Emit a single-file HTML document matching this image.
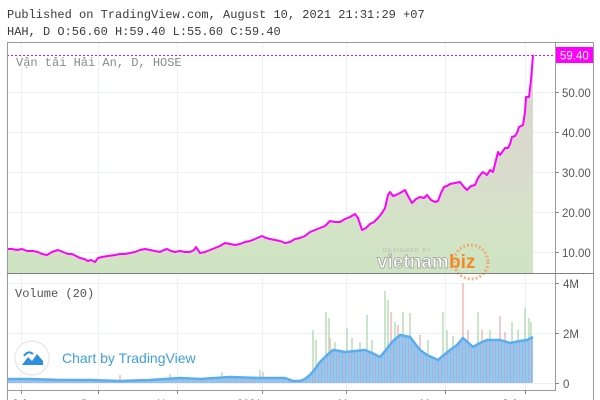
<!DOCTYPE html>
<html>
<head>
<meta charset="utf-8">
<style>
  html,body{margin:0;padding:0;background:#fff;}
  body{width:600px;height:400px;overflow:hidden;}
  svg{display:block;}
  .mono{font-family:"Liberation Mono","DejaVu Sans Mono",monospace;}
  .sans{font-family:"Liberation Sans","DejaVu Sans",sans-serif;}
</style>
</head>
<body>
<svg width="600" height="400" viewBox="0 0 600 400" xmlns="http://www.w3.org/2000/svg">
  <defs>
    <linearGradient id="ag" x1="0" y1="55" x2="0" y2="273" gradientUnits="userSpaceOnUse">
      <stop offset="0" stop-color="#d8d5cc"/>
      <stop offset="0.55" stop-color="#d9dccd"/>
      <stop offset="0.8" stop-color="#d3e4c6"/>
      <stop offset="1" stop-color="#cfe4c2"/>
    </linearGradient>
    <pattern id="vp" width="3" height="10" patternUnits="userSpaceOnUse">
      <rect width="3" height="10" fill="#8dcbef"/>
      <rect x="0" width="1" height="10" fill="#b2acdd"/>
    </pattern>
  </defs>

  <!-- header -->
  <text x="7" y="18" class="mono" font-size="12" fill="#3a3a3a">Published on TradingView.com, August 10, 2021 21:31:29 +07</text>
  <text x="7" y="35" class="mono" font-size="12" fill="#3a3a3a">HAH, D O:56.60 H:59.40 L:55.60 C:59.40</text>

  <!-- grid -->
  <g stroke="#edf1f3" stroke-width="1">
    <line x1="7" y1="92.5" x2="555" y2="92.5"/>
    <line x1="7" y1="132.5" x2="555" y2="132.5"/>
    <line x1="7" y1="172.5" x2="555" y2="172.5"/>
    <line x1="7" y1="212.5" x2="555" y2="212.5"/>
    <line x1="7" y1="252.5" x2="555" y2="252.5"/>
    <line x1="7" y1="283.5" x2="555" y2="283.5"/>
    <line x1="7" y1="333.5" x2="555" y2="333.5"/>
    <line x1="7" y1="383.5" x2="555" y2="383.5"/>
    <line x1="21.5" y1="42" x2="21.5" y2="390"/>
    <line x1="98.5" y1="42" x2="98.5" y2="390"/>
    <line x1="177.5" y1="42" x2="177.5" y2="390"/>
    <line x1="262.5" y1="42" x2="262.5" y2="390"/>
    <line x1="346.5" y1="42" x2="346.5" y2="390"/>
    <line x1="445.5" y1="42" x2="445.5" y2="390"/>
    <line x1="525.5" y1="42" x2="525.5" y2="390"/>
  </g>

  <!-- price area -->
  <polygon fill="url(#ag)" points="7,273 7,249 12,249 17,250 22,249 27,251 33,251 38,252 42,254 47,255 52,252 58,250 63,252 68,254 72,254 76,256 80,258 84,259 88,261 91,260 95,262 98,258 102,257 108,256 115,255 120,254 125,254 130,253 135,252 140,250 145,249 150,250 155,251 160,252 164,250 167,249 171,251 175,252 180,251 185,252 190,252 194,250 196,247 198,250 200,253 205,252 210,250 215,248 220,246 225,243 230,244 235,245 240,244 245,242 250,241 255,239 262,236 266,238 270,239 275,240 280,241 285,243 290,242 295,239 300,238 305,236 310,232 315,230 320,228 325,226 330,221 335,222 340,222 345,219 350,217 355,214 358,218 362,230 366,228 370,224 374,222 378,218 382,213 385,208 388,195 390,192 393,196 396,195 400,193 405,190 408,196 412,203 416,199 420,197 424,198 427,195 431,200 435,202 438,201 441,193 444,187 447,186 450,184 455,183 460,182 464,187 467,190 471,186 475,185 478,178 481,174 483,172 487,175 490,170 493,172 496,160 498,152 500,155 503,151 505,148 508,148 510,144 512,137 515,136 517,133 519,127 521,126 523,125 525,112 526,97 528,97 529,97 531,80 533,55 533,273"/>

  <!-- vietnambiz watermark -->
  <g>
    <circle cx="471" cy="262" r="17" fill="none" stroke="#f0a060" stroke-width="3" stroke-dasharray="2 2" opacity="0.8"/>
    <text x="383" y="252" class="sans" font-size="5.5" fill="#b8b8b8" letter-spacing="1">DESIGNED BY</text>
    <text x="377" y="268" class="sans" font-size="19" font-weight="bold" fill="#ffffff" stroke="#9a9a9a" stroke-width="0.7">vietnam</text>
    <text x="449" y="268" class="sans" font-size="19" font-weight="bold" fill="#f28a2c">biz</text>
  </g>

  <!-- price line -->
  <polyline fill="none" stroke="#ff00ff" stroke-width="2" stroke-linejoin="round" points="7,249 12,249 17,250 22,249 27,251 33,251 38,252 42,254 47,255 52,252 58,250 63,252 68,254 72,254 76,256 80,258 84,259 88,261 91,260 95,262 98,258 102,257 108,256 115,255 120,254 125,254 130,253 135,252 140,250 145,249 150,250 155,251 160,252 164,250 167,249 171,251 175,252 180,251 185,252 190,252 194,250 196,247 198,250 200,253 205,252 210,250 215,248 220,246 225,243 230,244 235,245 240,244 245,242 250,241 255,239 262,236 266,238 270,239 275,240 280,241 285,243 290,242 295,239 300,238 305,236 310,232 315,230 320,228 325,226 330,221 335,222 340,222 345,219 350,217 355,214 358,218 362,230 366,228 370,224 374,222 378,218 382,213 385,208 388,195 390,192 393,196 396,195 400,193 405,190 408,196 412,203 416,199 420,197 424,198 427,195 431,200 435,202 438,201 441,193 444,187 447,186 450,184 455,183 460,182 464,187 467,190 471,186 475,185 478,178 481,174 483,172 487,175 490,170 493,172 496,160 498,152 500,155 503,151 505,148 508,148 510,144 512,137 515,136 517,133 519,127 521,126 523,125 525,112 526,97 528,97 529,97 531,80 533,55"/>

  <!-- last price dotted line -->
  <line x1="7" y1="55.5" x2="555" y2="55.5" stroke="#ff00ff" stroke-width="1" stroke-dasharray="2 2"/>

  <text x="16" y="66" class="mono" font-size="12" fill="#8a8a8a">Vận tải Hải An, D, HOSE</text>

  <!-- volume spikes -->
  <g stroke-width="1.5" opacity="0.75">
    <g stroke="#9fd39f">
      <line x1="313" y1="383" x2="313" y2="330"/>
      <line x1="316" y1="383" x2="316" y2="340"/>
      <line x1="326" y1="383" x2="326" y2="312"/>
      <line x1="329" y1="383" x2="329" y2="318"/>
      <line x1="335" y1="383" x2="335" y2="342"/>
      <line x1="347" y1="383" x2="347" y2="328"/>
      <line x1="352" y1="383" x2="352" y2="338"/>
      <line x1="360" y1="383" x2="360" y2="342"/>
      <line x1="367" y1="383" x2="367" y2="315"/>
      <line x1="372" y1="383" x2="372" y2="340"/>
      <line x1="385" y1="383" x2="385" y2="291"/>
      <line x1="388" y1="383" x2="388" y2="300"/>
      <line x1="395" y1="383" x2="395" y2="322"/>
      <line x1="403" y1="383" x2="403" y2="312"/>
      <line x1="410" y1="383" x2="410" y2="313"/>
      <line x1="428" y1="383" x2="428" y2="340"/>
      <line x1="443" y1="383" x2="443" y2="312"/>
      <line x1="447" y1="383" x2="447" y2="330"/>
      <line x1="453" y1="383" x2="453" y2="336"/>
      <line x1="478" y1="383" x2="478" y2="312"/>
      <line x1="490" y1="383" x2="490" y2="330"/>
      <line x1="512" y1="383" x2="512" y2="322"/>
      <line x1="518" y1="383" x2="518" y2="330"/>
      <line x1="525" y1="383" x2="525" y2="308"/>
      <line x1="529" y1="383" x2="529" y2="318"/>
      <line x1="531" y1="383" x2="531" y2="322"/>
      <line x1="260" y1="383" x2="260" y2="370"/>
      <line x1="222" y1="383" x2="222" y2="372"/>
      <line x1="170" y1="383" x2="170" y2="374"/>
    </g>
    <g stroke="#f0a0a0">
      <line x1="330" y1="383" x2="330" y2="338"/>
      <line x1="391" y1="383" x2="391" y2="312"/>
      <line x1="398" y1="383" x2="398" y2="325"/>
      <line x1="420" y1="383" x2="420" y2="335"/>
      <line x1="463" y1="383" x2="463" y2="283"/>
      <line x1="468" y1="383" x2="468" y2="330"/>
      <line x1="482" y1="383" x2="482" y2="330"/>
      <line x1="500" y1="383" x2="500" y2="316"/>
      <line x1="505" y1="383" x2="505" y2="332"/>
      <line x1="474" y1="383" x2="474" y2="345"/>
      <line x1="263" y1="383" x2="263" y2="372"/>
      <line x1="120" y1="383" x2="120" y2="375"/>
    </g>
  </g>

  <!-- volume MA area -->
  <polygon fill="url(#vp)" points="7,383 7,379 30,379 60,380 90,380 120,381 150,380 180,378 200,379 230,377 260,378 285,378 293,381 300,381 305,379 310,375 315,369 320,362 326,356 333,350 340,351 345,352 355,351 365,350 372,353 380,357 386,350 392,342 400,335 410,337 420,350 427,355 438,360 450,350 457,345 463,338 473,347 480,343 487,340 500,340 510,343 520,341 527,340 533,337 533,383"/>
  <polyline fill="none" stroke="#5aaef0" stroke-width="2.5" stroke-linejoin="round" points="7,379 30,379 60,380 90,380 120,381 150,380 180,378 200,379 230,377 260,378 285,378 293,381 300,381 305,379 310,375 315,369 320,362 326,356 333,350 340,351 345,352 355,351 365,350 372,353 380,357 386,350 392,342 400,335 410,337 420,350 427,355 438,360 450,350 457,345 463,338 473,347 480,343 487,340 500,340 510,343 520,341 527,340 533,337"/>

  <text x="15" y="297" class="mono" font-size="12" fill="#555">Volume (20)</text>

  <!-- TradingView logo -->
  <circle cx="32" cy="358" r="17" fill="#fff" stroke="#e3e6ea" stroke-width="1.2"/>
  <path d="M22 365 L28 357 L32 361 L37 354 L43 361 L43 365 Z" fill="#2e90dd"/>
  <path d="M24 356 q4-6 9-2" fill="none" stroke="#2e90dd" stroke-width="2"/>
  <text x="62" y="363" class="sans" font-size="14" fill="#3f9fe0">Chart by TradingView</text>

  <!-- frame -->
  <g stroke="#9a9a9a" stroke-width="1" fill="none">
    <line x1="7" y1="42.5" x2="593" y2="42.5"/>
    <line x1="7.5" y1="42" x2="7.5" y2="400"/>
    <line x1="555.5" y1="42" x2="555.5" y2="390"/>
    <line x1="593.5" y1="42" x2="593.5" y2="400"/>
    <line x1="7" y1="273.5" x2="593" y2="273.5" stroke="#808080"/>
    <line x1="7" y1="390.5" x2="556" y2="390.5"/>
  </g>
  <!-- right axis ticks -->
  <g stroke="#888" stroke-width="1">
    <line x1="555" y1="92.5" x2="559" y2="92.5"/>
    <line x1="555" y1="132.5" x2="559" y2="132.5"/>
    <line x1="555" y1="172.5" x2="559" y2="172.5"/>
    <line x1="555" y1="212.5" x2="559" y2="212.5"/>
    <line x1="555" y1="252.5" x2="559" y2="252.5"/>
    <line x1="555" y1="283.5" x2="559" y2="283.5"/>
    <line x1="555" y1="333.5" x2="559" y2="333.5"/>
    <line x1="555" y1="383.5" x2="559" y2="383.5"/>
    <line x1="21.5" y1="390" x2="21.5" y2="394"/>
    <line x1="98.5" y1="390" x2="98.5" y2="394"/>
    <line x1="177.5" y1="390" x2="177.5" y2="394"/>
    <line x1="262.5" y1="390" x2="262.5" y2="394"/>
    <line x1="346.5" y1="390" x2="346.5" y2="394"/>
    <line x1="445.5" y1="390" x2="445.5" y2="394"/>
    <line x1="525.5" y1="390" x2="525.5" y2="394"/>
  </g>
  <g class="sans" font-size="11.5" fill="#555">
    <text x="562" y="97">50.00</text>
    <text x="562" y="137">40.00</text>
    <text x="562" y="177">30.00</text>
    <text x="562" y="217">20.00</text>
    <text x="562" y="257">10.00</text>
    <text x="563" y="288">4M</text>
    <text x="563" y="338">2M</text>
    <text x="563" y="388">0</text>
  </g>
  <!-- last price label -->
  <rect x="556" y="47" width="37" height="16" fill="#ff00ff"/>
  <text x="560" y="59.5" class="sans" font-size="11.5" fill="#fff">59.40</text>

  <!-- time axis labels (cut off) -->
  <g class="sans" font-size="11" fill="#555">
    <text x="12" y="407">Jul</text>
    <text x="80" y="407">Sep</text>
    <text x="157" y="407">Nov</text>
    <text x="237" y="407">2021</text>
    <text x="338" y="407">Mar</text>
    <text x="420" y="407">May</text>
    <text x="502" y="407">Jul</text>
  </g>
</svg>
</body>
</html>
